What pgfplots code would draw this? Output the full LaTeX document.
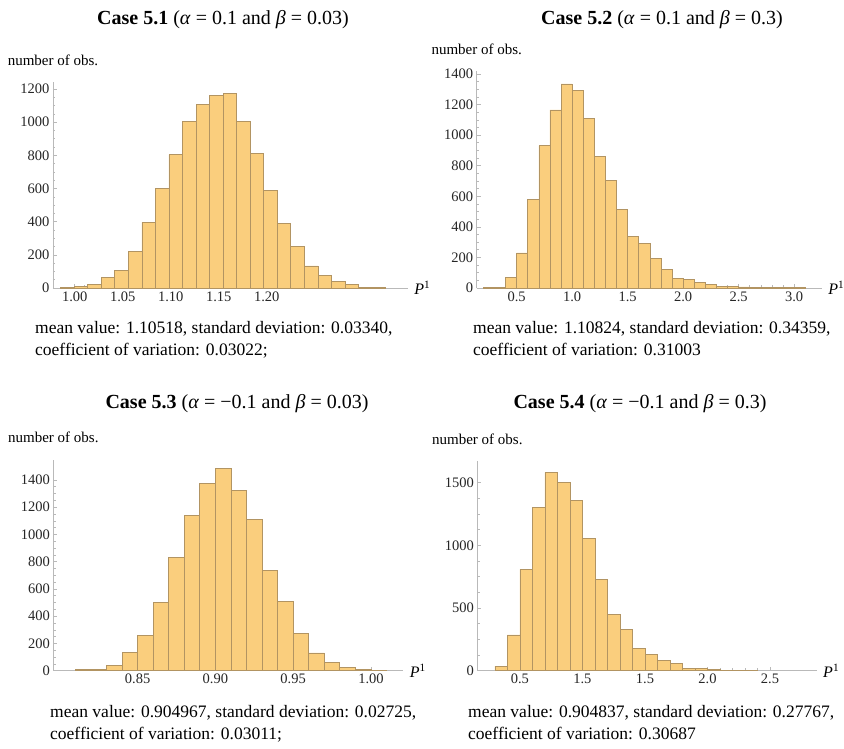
\documentclass[border=0pt]{standalone}
\usepackage{fontspec}
\setmainfont{Liberation Serif}
\usepackage{pgfplots}
\pgfplotsset{compat=1.18}

\definecolor{barfill}{RGB}{250,206,125}
\definecolor{baredge}{RGB}{178,148,98}
\definecolor{axisgray}{RGB}{185,185,185}

\pgfplotsset{
  histaxis/.style={
    scale only axis,
    anchor=south west,
    axis lines=left,
    axis line style={-, draw=axisgray, line width=0.9pt},
    ymin=0,
    clip=false,
    tick align=inside,
    major tick length=4pt,
    minor tick length=2.5pt,
    tick style={axisgray, line width=0.6pt},
    minor x tick num=4,
    minor y tick num=3,
    tick label style={font=\fontsize{14.5}{16}\selectfont, text=black!85},
    /pgf/number format/assume math mode=true,
    yticklabel style={/pgf/number format/1000 sep={}},
  },
  histbars/.style={ybar, bar shift=0pt, fill=barfill, draw=baredge, line width=0.7pt},
}

\newcommand{\obslabel}{\node[font=\fontsize{15}{17}\selectfont, anchor=center, yshift=22pt] at (rel axis cs:0,1) {number of obs.};}
\newcommand{\plabel}{\node[anchor=west, font=\fontsize{16}{18}\selectfont, xshift=3pt] at (rel axis cs:1,0) {\textit{P}\textsuperscript{1}};}

\begin{document}
\begin{tikzpicture}

% Case 5.1
\begin{axis}[histaxis,
  at={(53pt,460pt)}, width=354.8pt, height=205.6pt,
  xmin=0.9774, xmax=1.347, ymax=1240,
  xtick={1.00,1.05,1.10,1.15,1.20},
  ytick={0,200,...,1200},
  xticklabel style={/pgf/number format/.cd, fixed, fixed zerofill, precision=2},
]
\addplot[histbars, bar width=0.0141] coordinates {
  (0.99245,3) (1.00655,8) (1.02065,22) (1.03475,66) (1.04885,108)
  (1.06295,220) (1.07705,396) (1.09115,599) (1.10525,804) (1.11935,1005)
  (1.13345,1106) (1.14755,1160) (1.16165,1174) (1.17575,1005) (1.18985,810)
  (1.20395,587) (1.21805,390) (1.23215,251) (1.24625,133) (1.26035,74)
  (1.27445,38) (1.28855,20) (1.30265,6) (1.31675,2)
};
\obslabel
\plabel
\end{axis}

% Case 5.2
\begin{axis}[histaxis,
  at={(476.7pt,460pt)}, width=345.2pt, height=217.1pt,
  xmin=0.14, xmax=3.25, ymax=1420,
  xtick={0.5,1.0,...,3.0},
  ytick={0,200,...,1400},
  xticklabel style={/pgf/number format/.cd, fixed, fixed zerofill, precision=1},
]
\addplot[histbars, bar width=0.1] coordinates {
  (0.25,2) (0.35,5) (0.45,70) (0.55,229) (0.65,577) (0.75,932) (0.85,1165)
  (0.95,1335) (1.05,1293) (1.15,1110) (1.25,860) (1.35,703) (1.45,516)
  (1.55,337) (1.65,294) (1.75,194) (1.85,120) (1.95,65) (2.05,54)
  (2.15,39) (2.25,26) (2.35,13) (2.45,9) (2.55,7) (2.65,4) (2.75,3)
  (2.85,2) (2.95,2) (3.05,1)
};
\obslabel
\plabel
\end{axis}

% Case 5.3
\begin{axis}[histaxis,
  at={(53.3pt,77.3pt)}, width=350pt, height=211.2pt,
  xmin=0.7958, xmax=1.0208, ymax=1550,
  xtick={0.85,0.90,0.95,1.00},
  ytick={0,200,...,1400},
  xticklabel style={/pgf/number format/.cd, fixed, fixed zerofill, precision=2},
]
\addplot[histbars, bar width=0.01] coordinates {
  (0.815,10) (0.825,10) (0.835,37) (0.845,132) (0.855,259) (0.865,502)
  (0.875,830) (0.885,1138) (0.895,1376) (0.905,1483) (0.915,1322)
  (0.925,1109) (0.935,734) (0.945,507) (0.955,274) (0.965,130)
  (0.975,61) (0.985,27) (0.995,10) (1.005,5)
};
\obslabel
\plabel
\end{axis}

% Case 5.4
\begin{axis}[histaxis,
  at={(477.3pt,77.3pt)}, width=339.4pt, height=209.3pt,
  xmin=0.159, xmax=2.874, ymax=1670,
  xtick={0.5,1.0,1.5,2.0,2.5},
  xticklabels={0.5,1.5,1.5,2.0,2.5},
  ytick={0,500,1000,1500},
]
\addplot[histbars, bar width=0.1] coordinates {
  (0.35,37) (0.45,285) (0.55,809) (0.65,1301) (0.75,1583) (0.85,1503)
  (0.95,1362) (1.05,1056) (1.15,729) (1.25,450) (1.35,330) (1.45,181)
  (1.55,130) (1.65,85) (1.75,56) (1.85,21) (1.95,16) (2.05,11)
  (2.15,5) (2.25,3) (2.35,3)
};
\obslabel
\plabel
\end{axis}

% panel headings
\begin{scope}[every node/.style={font=\fontsize{20}{23}\selectfont, anchor=base}]
\node at (223pt,723pt) {\textbf{Case 5.1} (\textit{α} = 0.1 and \textit{β} = 0.03)};
\node at (662pt,723pt) {\textbf{Case 5.2} (\textit{α} = 0.1 and \textit{β} = 0.3)};
\node at (237pt,339pt) {\textbf{Case 5.3} (\textit{α} = −0.1 and \textit{β} = 0.03)};
\node at (640pt,339pt) {\textbf{Case 5.4} (\textit{α} = −0.1 and \textit{β} = 0.3)};
\end{scope}

% summary statistics
\begin{scope}[every node/.style={font=\fontsize{17.5}{20}\selectfont, anchor=base west, inner sep=0pt}]
\node at (35pt,414pt) {mean value: 1.10518, standard deviation: 0.03340,};
\node at (35pt,392pt) {coefficient of variation: 0.03022;};
\node at (473pt,414pt) {mean value: 1.10824, standard deviation: 0.34359,};
\node at (473pt,392pt) {coefficient of variation: 0.31003};
\node at (50pt,31pt) {mean value: 0.904967, standard deviation: 0.02725,};
\node at (50pt,9pt) {coefficient of variation: 0.03011;};
\node at (468pt,31pt) {mean value: 0.904837, standard deviation: 0.27767,};
\node at (468pt,9pt) {coefficient of variation: 0.30687};
\end{scope}

\pgfresetboundingbox
\useasboundingbox (0pt,0pt) rectangle (844pt,748pt);
\end{tikzpicture}
\end{document}
